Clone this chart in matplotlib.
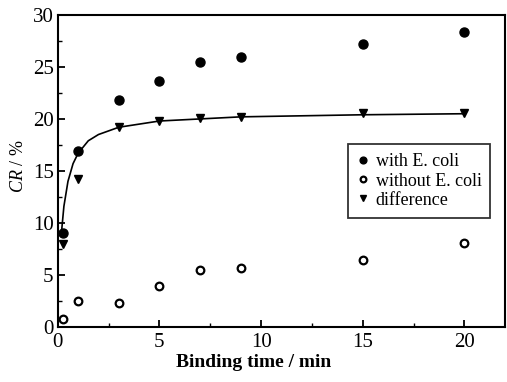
import matplotlib
matplotlib.use("Agg")
import matplotlib.pyplot as plt
from matplotlib.ticker import MultipleLocator

plt.rcParams['font.family'] = ['Liberation Serif', 'DejaVu Serif']
plt.rcParams['mathtext.fontset'] = 'custom'
plt.rcParams['mathtext.rm'] = 'Liberation Serif'
plt.rcParams['mathtext.it'] = 'Liberation Serif:italic'

time_min = [0.25, 1, 3, 5, 7, 9, 15, 20]
with_ecoli = [9.0, 16.9, 21.8, 23.6, 25.5, 26.0, 27.2, 28.4]
without_ecoli = [0.8, 2.5, 2.3, 3.9, 5.5, 5.7, 6.4, 8.1]
difference = [8.0, 14.2, 19.2, 19.8, 20.1, 20.2, 20.6, 20.6]

fit_x = [0.2, 0.3, 0.5, 0.75, 1, 1.5, 2, 3, 4, 5, 7, 9, 12, 15, 20]
fit_y = [9.5, 11.6, 14.0, 15.7, 16.7, 17.9, 18.5, 19.2, 19.5, 19.8, 20.0, 20.2, 20.3, 20.4, 20.5]

fig = plt.figure(figsize=(5.07, 3.82), dpi=100)
ax = fig.add_axes([0.114, 0.144, 0.882, 0.817])

ax.plot(fit_x, fit_y, color='black', lw=1.2, zorder=2)
ax.plot(time_min, with_ecoli, 'o', color='black', ms=6.5, label='with E. coli', zorder=3)
ax.plot(time_min, without_ecoli, 'o', mfc='white', mec='black', mew=1.6, ms=5.5,
        label='without E. coli', zorder=3)
ax.plot(time_min, difference, 'v', color='black', ms=6, label='difference', zorder=3)

ax.set_xlim(0, 22)
ax.set_ylim(0, 30)
ax.xaxis.set_major_locator(MultipleLocator(5))
ax.xaxis.set_minor_locator(MultipleLocator(2.5))
ax.yaxis.set_major_locator(MultipleLocator(5))
ax.yaxis.set_minor_locator(MultipleLocator(2.5))
ax.tick_params(which='both', direction='in', top=False, right=False)
ax.tick_params(which='major', length=5, width=1.3, labelsize=15)
ax.tick_params(axis='x', which='major', pad=4)
ax.tick_params(axis='y', which='major', pad=3)
ax.tick_params(which='minor', length=3, width=1.0)
for s in ax.spines.values():
    s.set_linewidth(1.5)

ax.set_xlabel('Binding time / min', fontsize=14, fontweight='bold')
ax.xaxis.set_label_coords(0.438, -0.085)
ax.set_ylabel(r'$\mathit{CR}$ / %', fontsize=13)
ax.yaxis.set_label_coords(-0.068, 0.515)

leg = ax.legend(loc='upper left', bbox_to_anchor=(0.65, 0.585), fontsize=13,
                frameon=True, fancybox=False, edgecolor='black', handlelength=0.6,
                handletextpad=0.4, borderpad=0.5, labelspacing=0.12, markerscale=0.75,
                borderaxespad=0)
leg.get_frame().set_linewidth(1.3)

fig.savefig('out.png', dpi=100)
